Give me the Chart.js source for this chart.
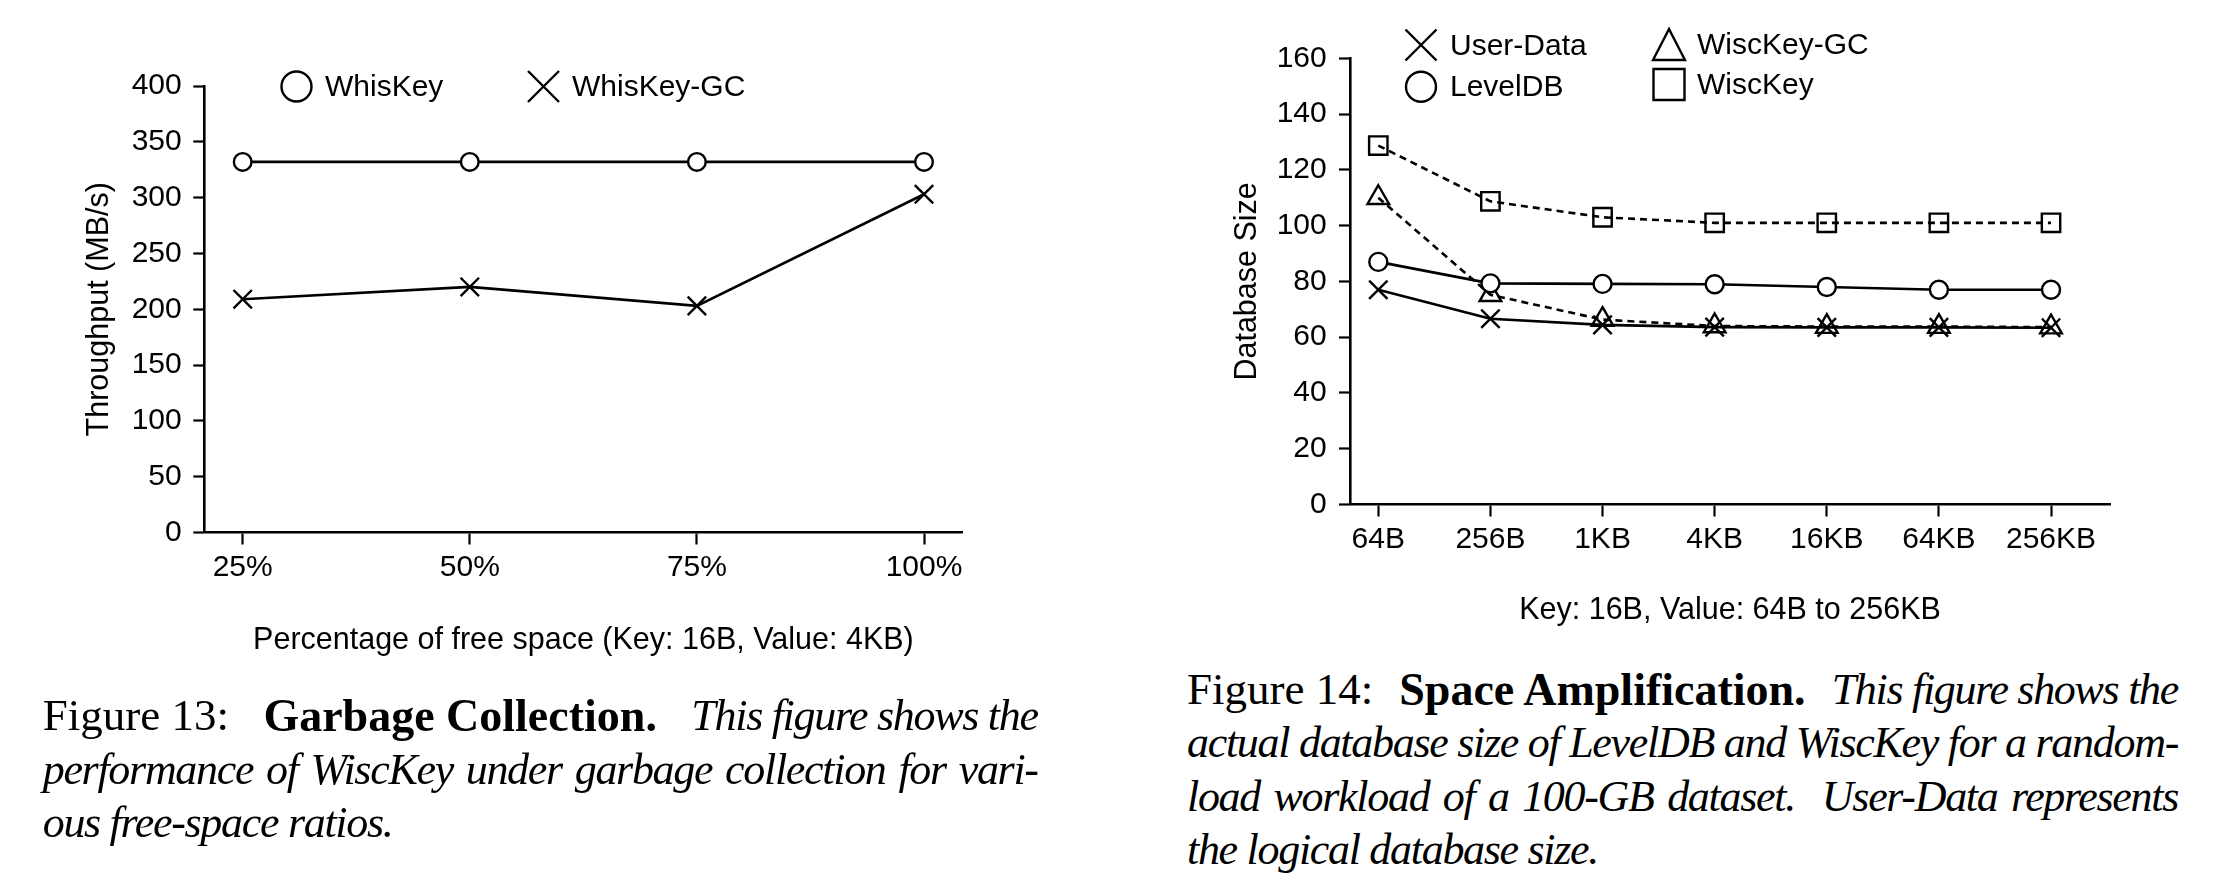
<!DOCTYPE html>
<html><head><meta charset="utf-8">
<script src="https://cdn.jsdelivr.net/npm/chart.js@4.4.1/dist/chart.umd.min.js"></script>
<style>
html,body{margin:0;padding:0;background:#fff;}
body{width:2216px;height:884px;position:relative;overflow:hidden;}
#c1{position:absolute;left:0;top:0;}
#c2{position:absolute;left:1100px;top:0;}
.cap{position:absolute;font-family:'Liberation Serif','Times New Roman',serif;font-size:45px;line-height:53.5px;color:#000;}
.cap .l{text-align:justify;text-align-last:justify;}
.cap .first{display:flex;justify-content:space-between;white-space:nowrap;}
.cap .last{text-align:left;text-align-last:left;}
.cap b{font-size:46px;}
.cap i{font-size:44px;letter-spacing:-1.3px;}
</style></head><body>
<canvas id="c1" width="1000" height="700" style="width:1000px;height:700px"></canvas>
<canvas id="c2" width="1116" height="660" style="width:1116px;height:660px"></canvas>

<div class="cap" style="left:42.7px;top:689px;width:995px;">
  <div class="first"><span>Figure 13:</span><b>Garbage Collection.</b><i>This figure shows the</i></div>
  <div class="l"><i>performance of WiscKey under garbage collection for vari-</i></div>
  <div class="last"><i>ous free-space ratios.</i></div>
</div>
<div class="cap" style="left:1187px;top:662.5px;width:991px;">
  <div class="first"><span>Figure 14:</span><b>Space Amplification.</b><i>This figure shows the</i></div>
  <div class="l"><i>actual database size of LevelDB and WiscKey for a random-</i></div>
  <div class="l"><i>load workload of a 100-GB dataset.&nbsp; User-Data represents</i></div>
  <div class="last"><i>the logical database size.</i></div>
</div>

<script>
// ---- Figure 13 data ----
const gcCategories = ['25%', '50%', '75%', '100%'];
const gcWhisKey = [332, 332, 332, 332];
const gcWhisKeyGC = [209, 220, 203, 303];
const gcYTicks = [0, 50, 100, 150, 200, 250, 300, 350, 400];

// ---- Figure 14 data ----
const saCategories = ['64B', '256B', '1KB', '4KB', '16KB', '64KB', '256KB'];
const saUserData = [77, 66.6, 64.4, 63.6, 63.5, 63.5, 63.4];
const saLevelDB = [87, 79.3, 79.1, 79, 78, 77, 77];
const saWiscKeyGC = [110, 75.2, 66.3, 64, 63.8, 63.8, 63.6];
const saWiscKey = [128.7, 108.7, 103, 101, 101, 101, 101];
const saYTicks = [0, 20, 40, 60, 80, 100, 120, 140, 160];

const FONT = "'Liberation Sans', Arial, Helvetica, sans-serif";
Chart.defaults.font.family = FONT;
Chart.defaults.color = '#000';

const pts = arr => arr.map((v, i) => ({x: i, y: v}));

function drawMarker(ctx, style, x, y, s) {
  ctx.save();
  ctx.strokeStyle = '#000';
  ctx.lineWidth = 2.4;
  ctx.beginPath();
  if (style === 'circle') {
    ctx.arc(x, y, s, 0, Math.PI * 2);
    ctx.fillStyle = '#fff'; ctx.fill();
  } else if (style === 'cross') {
    ctx.moveTo(x - s, y - s); ctx.lineTo(x + s, y + s);
    ctx.moveTo(x - s, y + s); ctx.lineTo(x + s, y - s);
  } else if (style === 'triangle') {
    ctx.moveTo(x, y - s); ctx.lineTo(x + s * 1.03, y + s); ctx.lineTo(x - s * 1.03, y + s); ctx.closePath();
  } else if (style === 'square') {
    ctx.rect(x - s, y - s, 2 * s, 2 * s);
  }
  ctx.stroke();
  ctx.restore();
}

const insideLegend = {
  id: 'insideLegend',
  afterDraw(chart, args, opts) {
    const ctx = chart.ctx;
    const a = chart.chartArea;
    ctx.save();
    ctx.font = '30px ' + FONT;
    ctx.fillStyle = '#000';
    ctx.textBaseline = 'middle';
    ctx.textAlign = 'left';
    (opts.items || []).forEach(it => {
      const x = a.left + it.x, y = a.top + it.y;
      drawMarker(ctx, it.style, x, y, it.size);
      ctx.fillText(it.label, a.left + it.tx, y + 1.5);
    });
    ctx.restore();
  }
};

function axisCommon(extra) {
  return Object.assign({
    grid: {display: true, drawOnChartArea: false, drawTicks: true, tickLength: 11, tickWidth: 2.2, tickColor: '#000'},
    border: {display: true, color: '#000', width: 2.6}
  }, extra);
}

// ---------- Figure 13 ----------
new Chart(document.getElementById('c1'), {
  type: 'line',
  data: {
    datasets: [
      {label: 'WhisKey', data: pts(gcWhisKey), borderColor: '#000', borderWidth: 2.6,
       pointStyle: 'circle', pointRadius: 8.8, pointBorderWidth: 2.4, pointBorderColor: '#000',
       pointBackgroundColor: '#fff', tension: 0, clip: false},
      {label: 'WhisKey-GC', data: pts(gcWhisKeyGC), borderColor: '#000', borderWidth: 2.6,
       pointStyle: 'crossRot', pointRadius: 13, pointBorderWidth: 2.4, pointBorderColor: '#000',
       pointBackgroundColor: 'rgba(0,0,0,0)', tension: 0, clip: false}
    ]
  },
  options: {
    responsive: false, animation: false, devicePixelRatio: 1,
    layout: {padding: {top: 86, right: 37.5, left: 0, bottom: 0}},
    plugins: {
      legend: {display: false}, tooltip: {enabled: false},
      insideLegend: {items: [
        {label: 'WhisKey', style: 'circle', x: 92.2, y: 0.5, size: 15, tx: 120.7},
        {label: 'WhisKey-GC', style: 'cross', x: 339.2, y: 0.5, size: 15.5, tx: 367.7}
      ]}
    },
    scales: {
      x: axisCommon({
        type: 'linear', min: -0.169, max: 3.1695,
        afterBuildTicks: s => { s.ticks = gcCategories.map((_, i) => ({value: i})); },
        afterFit: s => { s.height = 167.5; },
        grid: {display: true, drawOnChartArea: false, drawTicks: true, tickLength: 12, tickWidth: 2.2, tickColor: '#000'},
        ticks: {callback: v => gcCategories[v], font: {size: 30}, padding: 5, color: '#000', maxRotation: 0, autoSkip: false},
        title: {display: true, text: 'Percentage of free space (Key: 16B, Value: 4KB)', font: {size: 30.5}, color: '#000', padding: {top: 0, bottom: 41.4}}
      }),
      y: axisCommon({
        type: 'linear', min: 0, max: 400,
        afterBuildTicks: s => { s.ticks = gcYTicks.map(v => ({value: v})); },
        afterFit: s => { s.width = 204.3; },
        ticks: {font: {size: 30}, padding: 11.6, color: '#000'},
        title: {display: true, text: 'Throughput (MB/s)', font: {size: 30.5}, color: '#000', padding: {top: 81.4, bottom: 0}}
      })
    }
  },
  plugins: [insideLegend]
});

// ---------- Figure 14 ----------
new Chart(document.getElementById('c2'), {
  type: 'line',
  data: {
    datasets: [
      {label: 'User-Data', data: pts(saUserData), borderColor: '#000', borderWidth: 2.6,
       pointStyle: 'crossRot', pointRadius: 13, pointBorderWidth: 2.4, pointBorderColor: '#000',
       pointBackgroundColor: 'rgba(0,0,0,0)', tension: 0, clip: false},
      {label: 'LevelDB', data: pts(saLevelDB), borderColor: '#000', borderWidth: 2.6,
       pointStyle: 'circle', pointRadius: 9, pointBorderWidth: 2.4, pointBorderColor: '#000',
       pointBackgroundColor: '#fff', tension: 0, clip: false},
      {label: 'WiscKey-GC', data: pts(saWiscKeyGC), borderColor: '#000', borderWidth: 2.6, borderDash: [7, 5],
       pointStyle: 'triangle', pointRadius: 12.5, pointBorderWidth: 2.4, pointBorderColor: '#000',
       pointBackgroundColor: 'rgba(0,0,0,0)', tension: 0, clip: false},
      {label: 'WiscKey', data: pts(saWiscKey), borderColor: '#000', borderWidth: 2.6, borderDash: [7, 5],
       pointStyle: 'rect', pointRadius: 13, pointBorderWidth: 2.4, pointBorderColor: '#000',
       pointBackgroundColor: 'rgba(0,0,0,0)', tension: 0, clip: false}
    ]
  },
  options: {
    responsive: false, animation: false, devicePixelRatio: 1,
    layout: {padding: {top: 58.3, right: 106, left: 0, bottom: 0}},
    plugins: {
      legend: {display: false}, tooltip: {enabled: false},
      insideLegend: {items: [
        {label: 'User-Data', style: 'cross', x: 71, y: -13.3, size: 15.5, tx: 100},
        {label: 'LevelDB', style: 'circle', x: 71, y: 28.4, size: 15, tx: 100},
        {label: 'WiscKey-GC', style: 'triangle', x: 319, y: -13.8, size: 15.5, tx: 347},
        {label: 'WiscKey', style: 'square', x: 319, y: 26.2, size: 15.5, tx: 347}
      ]}
    },
    scales: {
      x: axisCommon({
        type: 'linear', min: -0.2524, max: 6.526,
        afterBuildTicks: s => { s.ticks = saCategories.map((_, i) => ({value: i})); },
        afterFit: s => { s.height = 155.5; },
        grid: {display: true, drawOnChartArea: false, drawTicks: true, tickLength: 12, tickWidth: 2.2, tickColor: '#000'},
        ticks: {callback: v => saCategories[v], font: {size: 30}, padding: 5.5, color: '#000', maxRotation: 0, autoSkip: false},
        title: {display: true, text: 'Key: 16B, Value: 64B to 256KB', font: {size: 30.5}, color: '#000', padding: {top: 0, bottom: 31.3}}
      }),
      y: axisCommon({
        type: 'linear', min: 0, max: 160,
        afterBuildTicks: s => { s.ticks = saYTicks.map(v => ({value: v})); },
        afterFit: s => { s.width = 250; },
        ticks: {font: {size: 30}, padding: 12.3, color: '#000'},
        title: {display: true, text: 'Database Size', font: {size: 30.5}, color: '#000', padding: {top: 129.7, bottom: 0}}
      })
    }
  },
  plugins: [insideLegend]
});
</script>
</body></html>
